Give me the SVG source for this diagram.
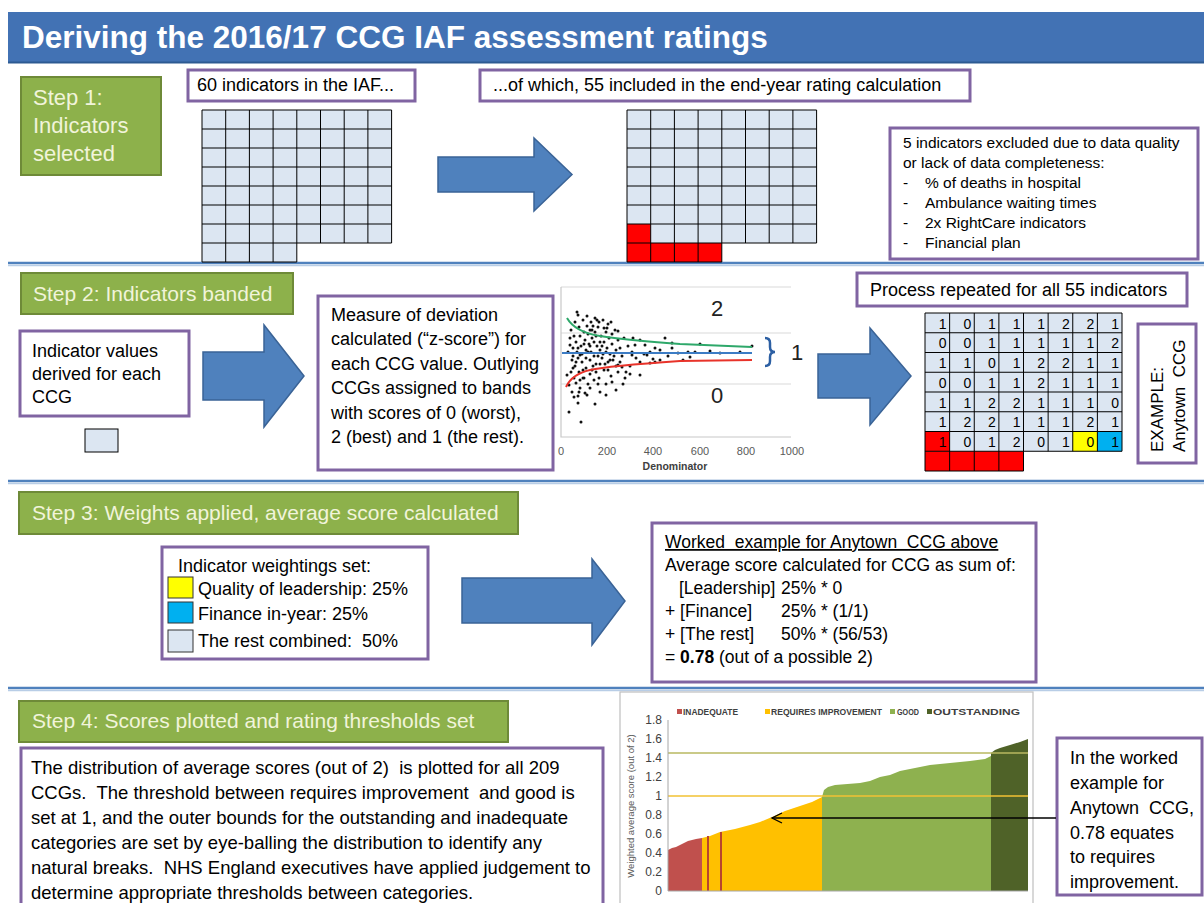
<svg xmlns="http://www.w3.org/2000/svg" width="1204" height="903" viewBox="0 0 1204 903">
<defs>
<style>
.t{font-family:"Liberation Sans",Arial,sans-serif;fill:#000}
.box{fill:#fff;stroke:#8064a2;stroke-width:3}
.step{fill:#8db14b;stroke:#6e8a38;stroke-width:2}
.st{font-family:"Liberation Sans",Arial,sans-serif;fill:#f1f4da;font-size:21px}
.arr{fill:#4f81bd;stroke:#3a6396;stroke-width:1.5}
.cellf{fill:#dce6f2}
.gl{fill:none;stroke:#000;stroke-width:1}
.sep{stroke:#4f81bd;stroke-width:2.5}
.sep2{stroke:#b8cde6;stroke-width:1.5}
.num{font-family:"Liberation Sans",Arial,sans-serif;font-size:14px;fill:#000;text-anchor:end}
.ax{font-family:"Liberation Sans",Arial,sans-serif;font-size:11px;fill:#595959;text-anchor:middle}
.yl{font-family:"Liberation Sans",Arial,sans-serif;font-size:12px;fill:#404040;text-anchor:end}
.lg{font-family:"Liberation Sans",Arial,sans-serif;font-size:8.5px;fill:#404040;font-weight:bold}
</style>
<marker id="open" viewBox="-12 -7 14 14" refX="0" refY="0" markerWidth="14" markerHeight="14" markerUnits="userSpaceOnUse" orient="auto">
<path d="M-10,-5 L0,0 L-10,5" fill="none" stroke="#000" stroke-width="1.3"/>
</marker>
</defs>
<rect width="1204" height="903" fill="#ffffff"/>

<g id="title">
<rect x="8" y="12" width="1196" height="51" fill="#4272b4"/>
<line x1="8" y1="62.5" x2="1204" y2="62.5" stroke="#2d5a92" stroke-width="2"/>
<text class="t" x="22" y="48" font-size="31.5" font-weight="bold" style="fill:#fff">Deriving the 2016/17 CCG IAF assessment ratings</text>
</g>

<g id="separators">
<line class="sep" x1="8" y1="263" x2="1204" y2="263"/><line class="sep2" x1="8" y1="265.5" x2="1204" y2="265.5"/>
<line class="sep" x1="8" y1="481" x2="1204" y2="481"/><line class="sep2" x1="8" y1="483.5" x2="1204" y2="483.5"/>
<line class="sep" x1="8" y1="688" x2="1204" y2="688"/><line class="sep2" x1="8" y1="690.5" x2="1204" y2="690.5"/>
</g>

<!-- STEP 1 -->
<g id="step1">
<rect class="step" x="21" y="77" width="140" height="98"/>
<text class="st" x="33" y="105" style="font-size:22px">Step 1:</text>
<text class="st" x="33" y="133" style="font-size:22px">Indicators</text>
<text class="st" x="33" y="161" style="font-size:22px">selected</text>
</g>

<g id="box60">
<rect class="box" x="188" y="70" width="227" height="31"/>
<text class="t" x="197" y="91" font-size="18">60 indicators in the IAF...</text>
</g>

<g id="grid60">
<path class="cellf" d="M202,110H391.6V243H296.8V262H202Z"/>
<path class="gl" d="M202,110H391.6M202,129H391.6M202,148H391.6M202,167H391.6M202,186H391.6M202,205H391.6M202,224H391.6M202,243H391.6M202,262H296.8M202,110V262M225.7,110V262M249.4,110V262M273.1,110V262M296.8,110V262M320.5,110V243M344.2,110V243M367.9,110V243M391.6,110V243"/>
</g>

<g id="box55">
<rect class="box" x="480" y="70" width="490" height="31"/>
<text class="t" x="493" y="91" font-size="18">...of which, 55 included in the end-year rating calculation</text>
</g>

<g id="grid55">
<path class="cellf" d="M627,110H816.6V243H650.7V224H627Z"/>
<rect x="627" y="224" width="23.7" height="19" fill="#ff0000"/>
<rect x="627" y="243" width="94.8" height="19" fill="#ff0000"/>
<path class="gl" d="M627,110H816.6M627,129H816.6M627,148H816.6M627,167H816.6M627,186H816.6M627,205H816.6M627,224H816.6M627,243H816.6M627,262H721.8M627,110V262M650.7,110V262M674.4,110V262M698.1,110V262M721.8,110V262M745.5,110V243M769.2,110V243M792.9,110V243M816.6,110V243"/>
</g>

<g id="excluded">
<rect class="box" x="890" y="128" width="308" height="131"/>
<g class="t" font-size="15.5">
<text x="903" y="148">5 indicators excluded due to data quality</text>
<text x="903" y="168">or lack of data completeness:</text>
<text x="903" y="188">-</text><text x="925" y="188">% of deaths in hospital</text>
<text x="903" y="208">-</text><text x="925" y="208">Ambulance waiting times</text>
<text x="903" y="228">-</text><text x="925" y="228">2x RightCare indicators</text>
<text x="903" y="248">-</text><text x="925" y="248">Financial plan</text>
</g>
</g>

<!-- STEP 2 -->
<g id="step2">
<rect class="step" x="21" y="273" width="272" height="41"/>
<text class="st" x="33" y="301">Step 2: Indicators banded</text>
</g>

<g id="indicatorValues">
<rect class="box" x="20" y="331" width="169" height="85"/>
<g class="t" font-size="18">
<text x="32" y="357">Indicator values</text>
<text x="32" y="380">derived for each</text>
<text x="32" y="403">CCG</text>
</g>
<rect x="85" y="429" width="33" height="23" fill="#dce6f2" stroke="#000" stroke-width="1"/>
</g>

<g id="measure">
<rect class="box" x="318" y="296" width="235" height="174"/>
<g class="t" font-size="18">
<text x="331" y="321">Measure of deviation</text>
<text x="331" y="345">calculated (“z-score”) for</text>
<text x="331" y="370">each CCG value. Outlying</text>
<text x="331" y="394">CCGs assigned to bands</text>
<text x="331" y="419">with scores of 0 (worst),</text>
<text x="331" y="443">2 (best) and 1 (the rest).</text>
</g>
</g>

<g id="scatter">
<path d="M561,287H791M561,333H791M561,384H791" stroke="#d9d9d9" stroke-width="1.2"/>
<path d="M561,287V437H791" fill="none" stroke="#c8c8c8" stroke-width="1.2"/>
<path fill="none" stroke="#111" stroke-width="3" stroke-linecap="round" d="M571,330h0M574,336h0M576,342h0M578,348h0M580,355h0M572,360h0M575,366h0M579,372h0M583,378h0M586,350h0M589,344h0M592,338h0M595,332h0M598,327h0M601,336h0M604,342h0M607,348h0M610,354h0M613,360h0M616,366h0M584,332h0M587,326h0M590,360h0M593,366h0M596,372h0M599,378h0M602,358h0M605,364h0M608,370h0M611,376h0M573,348h0M577,352h0M581,346h0M585,340h0M588,334h0M591,352h0M594,356h0M597,346h0M600,350h0M603,354h0M606,332h0M609,338h0M612,344h0M615,330h0M618,340h0M620,348h0M622,356h0M568,352h0M570,345h0M582,362h0M586,368h0M590,374h0M594,380h0M598,384h0M576,383h0M580,388h0M584,378h0M588,384h0M592,370h0M596,364h0M600,342h0M604,328h0M608,324h0M612,334h0M616,350h0M620,362h0M624,338h0M628,346h0M632,352h0M636,358h0M640,340h0M644,354h0M626,372h0M630,366h0M635,345h0M640,362h0M645,345h0M650,352h0M655,362h0M660,350h0M575,322h0M579,327h0M583,320h0M587,316h0M591,322h0M595,318h0M599,322h0M603,320h0M607,328h0M611,322h0M571,372h0M574,378h0M569,385h0M572,392h0M578,396h0M585,393h0M590,388h0M600,392h0M606,384h0M612,382h0M578,358h0M582,354h0M586,358h0M590,346h0M594,342h0M598,356h0M602,346h0M606,352h0M610,360h0M614,356h0M618,372h0M622,367h0M580,336h0M584,344h0M588,352h0M592,330h0M596,336h0M600,364h0M604,370h0M608,362h0M578,315h0M590,330h0M593,326h0M570,338h0M573,356h0M576,362h0M573,368h0M567,375h0M580,380h0M583,370h0M668,356h0M678,353h0M695,352h0M720,353h0M740,352h0M700,344h0M665,338h0M672,343h0M672,348h0M650,363h0M653,359h0M633,338h0M618,331h0M647,355h0M618,365h0M632,355h0M623,384h0M630,374h0M577,312h0M597,320h0M569,412h0M581,422h0M595,404h0M578,403h0M574,397h0M579,392h0M587,395h0M710,351h0M688,352h0M690,357h0M752,346h0M640,375h0M625,378h0M606,395h0M616,390h0M655,348h0M660,360h0M683,360h0"/>
<path d="M567,318Q575,332 600,336T680,344L752,347" fill="none" stroke="#2ea86a" stroke-width="2"/>
<path d="M562,353H752" stroke="#3c7cc4" stroke-width="2"/>
<path d="M566,387Q572,374 590,370T680,361L752,360" fill="none" stroke="#e8332a" stroke-width="2"/>
<path d="M765,338q5,0 5,5v4q0,5 5,5q-5,0 -5,5v4q0,5 -5,5" fill="none" stroke="#2c5fa3" stroke-width="2.5"/>
<text class="t" x="717" y="316" font-size="22" text-anchor="middle" style="fill:#222">2</text>
<text class="t" x="797" y="360" font-size="22" text-anchor="middle" style="fill:#222">1</text>
<text class="t" x="717" y="403" font-size="22" text-anchor="middle" style="fill:#222">0</text>
<text class="ax" x="561" y="455">0</text>
<text class="ax" x="607" y="455">200</text>
<text class="ax" x="653" y="455">400</text>
<text class="ax" x="700" y="455">600</text>
<text class="ax" x="746" y="455">800</text>
<text class="ax" x="792" y="455">1000</text>
<text class="ax" x="675" y="470" font-weight="bold" style="fill:#404040;font-size:10.5px">Denominator</text>
</g>

<g id="processRepeated">
<rect class="box" x="857" y="273" width="330" height="33"/>
<text class="t" x="870" y="296" font-size="18">Process repeated for all 55 indicators</text>
</g>

<g id="grid3">
<rect x="925" y="313" width="197" height="138.25" fill="#dce6f2"/>
<rect x="925" y="431.5" width="24.625" height="19.75" fill="#ff0000"/>
<rect x="1072.75" y="431.5" width="24.625" height="19.75" fill="#ffff00"/>
<rect x="1097.375" y="431.5" width="24.625" height="19.75" fill="#00b0f0"/>
<rect x="925" y="451.25" width="98.5" height="19.75" fill="#ff0000"/>
<path class="gl" d="M925,313H1122M925,332.75H1122M925,352.5H1122M925,372.25H1122M925,392H1122M925,411.75H1122M925,431.5H1122M925,451.25H1122M925,471H1023.5M925,313V471M949.625,313V471M974.25,313V471M998.875,313V471M1023.5,313V471M1048.125,313V451.25M1072.75,313V451.25M1097.375,313V451.25M1122,313V451.25"/>
<text class="num" x="946.6 971.3 995.9 1020.5 1045.1 1069.8 1094.4 1119" y="328.5">10111221</text>
<text class="num" x="946.6 971.3 995.9 1020.5 1045.1 1069.8 1094.4 1119" y="348.2">00111112</text>
<text class="num" x="946.6 971.3 995.9 1020.5 1045.1 1069.8 1094.4 1119" y="368">11012211</text>
<text class="num" x="946.6 971.3 995.9 1020.5 1045.1 1069.8 1094.4 1119" y="387.7">00112111</text>
<text class="num" x="946.6 971.3 995.9 1020.5 1045.1 1069.8 1094.4 1119" y="407.5">11221110</text>
<text class="num" x="946.6 971.3 995.9 1020.5 1045.1 1069.8 1094.4 1119" y="427.2">12211121</text>
<text class="num" x="946.6 971.3 995.9 1020.5 1045.1 1069.8 1094.4 1119" y="447">10120101</text>
</g>

<g id="example">
<rect class="box" x="1138" y="324" width="58" height="139"/>
<text class="t" font-size="17" transform="translate(1163,452) rotate(-90)">EXAMPLE:</text>
<text class="t" font-size="17" transform="translate(1185,452) rotate(-90)" xml:space="preserve">Anytown  CCG</text>
</g>

<!-- STEP 3 -->
<g id="step3">
<rect class="step" x="19" y="492" width="499" height="42"/>
<text class="st" x="32" y="520">Step 3: Weights applied, average score calculated</text>
</g>

<g id="weightings">
<rect class="box" x="162" y="547" width="266" height="112"/>
<text class="t" x="178" y="572" font-size="18">Indicator weightings set:</text>
<rect x="168" y="577" width="25" height="21" fill="#ffff00" stroke="#333" stroke-width="1"/>
<text class="t" x="198" y="595" font-size="18">Quality of leadership: 25%</text>
<rect x="168" y="602" width="25" height="21" fill="#00b0f0" stroke="#333" stroke-width="1"/>
<text class="t" x="198" y="620" font-size="18">Finance in-year: 25%</text>
<rect x="168" y="630" width="25" height="22" fill="#dce6f2" stroke="#333" stroke-width="1"/>
<text class="t" x="198" y="647" font-size="18" xml:space="preserve">The rest combined:  50%</text>
</g>

<g id="worked">
<rect class="box" x="652" y="523" width="384" height="159"/>
<g class="t" font-size="17.5">
<text x="665" y="548" style="text-decoration:underline" xml:space="preserve">Worked  example for Anytown  CCG above</text>
<text x="665" y="571">Average score calculated for CCG as sum of:</text>
<text x="679" y="594">[Leadership]</text><text x="781" y="594">25% * 0</text>
<text x="665" y="617">+ [Finance]</text><text x="781" y="617">25% * (1/1)</text>
<text x="665" y="640">+ [The rest]</text><text x="781" y="640">50% * (56/53)</text>
<text x="665" y="663">= <tspan font-weight="bold">0.78</tspan> (out of a possible 2)</text>
</g>
</g>

<!-- STEP 4 -->
<g id="step4">
<rect class="step" x="19" y="701" width="489" height="41"/>
<text class="st" x="32" y="728">Step 4: Scores plotted and rating thresholds set</text>
</g>

<g id="step4text">
<rect class="box" x="21" y="748" width="582" height="165"/>
<g class="t" font-size="18.5">
<text x="31" y="774" xml:space="preserve">The distribution of average scores (out of 2)  is plotted for all 209</text>
<text x="31" y="799" xml:space="preserve">CCGs.  The threshold between requires improvement  and good is</text>
<text x="31" y="824">set at 1, and the outer bounds for the outstanding and inadequate</text>
<text x="31" y="849">categories are set by eye-balling the distribution to identify any</text>
<text x="31" y="874" xml:space="preserve">natural breaks.  NHS England executives have applied judgement to</text>
<text x="31" y="899">determine appropriate thresholds between categories.</text>
</g>
</g>

<g id="chart">
<rect x="620" y="692" width="413" height="220" fill="#fff" stroke="#bfbfbf" stroke-width="1.2"/>
<path d="M668,891V850L672,848L676,847L680,845L684,843L688,841L692,840L696,839L702,838V891Z" fill="#c0504d"/>
<path d="M702,891V838L710,836L720,832L735,829L750,825L760,822L772,817L785,811L800,806L812,802L822,797V891Z" fill="#ffc000"/>
<rect x="707" y="836" width="2" height="55" fill="#b8442e"/>
<rect x="720" y="832" width="2" height="59" fill="#b8442e"/>
<path d="M822,891V797L824,790L828,787L835,785L860,783L870,781L880,777L890,775L900,771L915,768L930,765L950,763L970,761L985,759L991,756V891Z" fill="#8eb14f"/>
<path d="M991,891V753L995,750L1000,748L1010,745L1020,742L1028,739V891Z" fill="#4f6228"/>
<line x1="668" y1="753" x2="1028" y2="753" stroke="#b8b860" stroke-width="1.3"/>
<line x1="668" y1="796" x2="1028" y2="796" stroke="#f2c233" stroke-width="1.3"/>
<path d="M668,720V891H1028" fill="none" stroke="#a6a6a6" stroke-width="1"/>
<text class="yl" x="662" y="724">1.8</text>
<text class="yl" x="662" y="743">1.6</text>
<text class="yl" x="662" y="762">1.4</text>
<text class="yl" x="662" y="781">1.2</text>
<text class="yl" x="662" y="800">1</text>
<text class="yl" x="662" y="819">0.8</text>
<text class="yl" x="662" y="838">0.6</text>
<text class="yl" x="662" y="857">0.4</text>
<text class="yl" x="662" y="876">0.2</text>
<text class="yl" x="662" y="895">0</text>
<text class="t" font-size="9.5" text-anchor="middle" transform="translate(634,806) rotate(-90)" style="fill:#595959">Weighted average score (out of 2)</text>
<rect x="677" y="709" width="5" height="5" fill="#c0504d"/>
<text class="lg" x="683" y="715" textLength="55" lengthAdjust="spacingAndGlyphs">INADEQUATE</text>
<rect x="765" y="709" width="5" height="5" fill="#ffc000"/>
<text class="lg" x="771" y="715" textLength="111" lengthAdjust="spacingAndGlyphs">REQUIRES IMPROVEMENT</text>
<rect x="890" y="709" width="5" height="5" fill="#8eb14f"/>
<text class="lg" x="897" y="715" textLength="22" lengthAdjust="spacingAndGlyphs">GOOD</text>
<rect x="927" y="709" width="5" height="5" fill="#4f6228"/>
<text class="lg" x="933" y="715" textLength="87" lengthAdjust="spacingAndGlyphs">OUTSTANDING</text>
</g>

<g id="callout">
<rect class="box" x="1057" y="738" width="145" height="157"/>
<g class="t" font-size="18">
<text x="1070" y="764">In the worked</text>
<text x="1070" y="789">example for</text>
<text x="1070" y="814" xml:space="preserve">Anytown  CCG,</text>
<text x="1070" y="839">0.78 equates</text>
<text x="1070" y="863">to requires</text>
<text x="1070" y="888">improvement.</text>
</g>
</g>

<g id="connectors">
<path class="arr" d="M438,157H534V138L572,174.5L534,211V192H438Z"/>
<path class="arr" d="M203,352H264V325L304,376L264,427V400H203Z"/>
<path class="arr" d="M818,354H870V328L911,376L870,425V398H818Z"/>
<path class="arr" d="M462,578H592V559L625,601L592,645V623H462Z"/>
<line x1="1056" y1="818" x2="772" y2="818" stroke="#000" stroke-width="1.3" marker-end="url(#open)"/>
</g>
</svg>
